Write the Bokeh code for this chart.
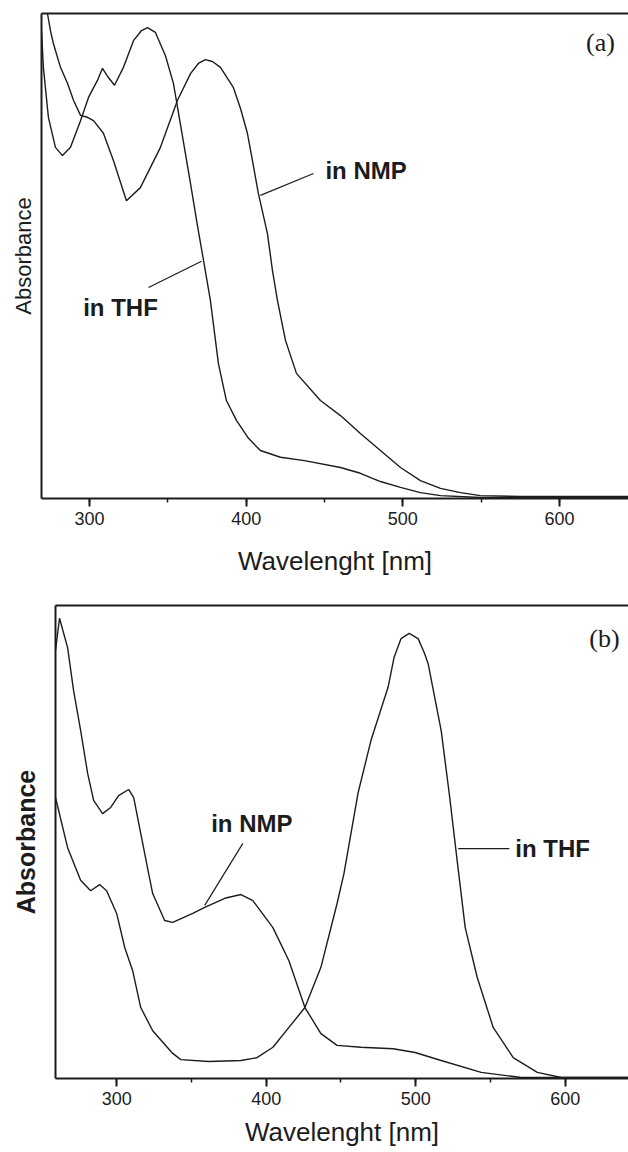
from bokeh.plotting import figure
from bokeh.models import Range1d, LinearAxis, FixedTicker, Label
from bokeh.embed import file_html
from bokeh.resources import INLINE

# ---------------- data ----------------
# Panel (a)
a_thf_nm = [269.4, 270.6, 273.8, 278.3, 282.8, 287.9, 294.3, 299.4, 305.1, 308.3, 312.1, 316.0,
            321.7, 328.1, 333.0, 337.0, 342.1, 348.5, 353.6, 358.1, 364.5, 368.9, 372.8, 377.2,
            382.3, 387.4, 393.8, 401.5, 409.1, 421.9, 437.2, 460.2, 472.9, 485.7, 498.5, 511.2,
            524.0, 549.5, 644.0]
a_thf_abs = [0.965, 0.889, 0.786, 0.724, 0.707, 0.724, 0.779, 0.827, 0.862, 0.887, 0.868, 0.852,
             0.889, 0.944, 0.964, 0.971, 0.961, 0.913, 0.856, 0.771, 0.649, 0.563, 0.491, 0.408,
             0.278, 0.202, 0.161, 0.124, 0.099, 0.085, 0.078, 0.064, 0.052, 0.035, 0.023, 0.012,
             0.006, 0.002, 0.002]
a_nmp_nm = [271.0, 273.2, 275.1, 277.0, 281.5, 286.0, 289.8, 294.3, 298.7, 302.6, 308.9, 315.3,
            323.6, 332.5, 345.3, 356.2, 364.5, 369.5, 374.0, 378.5, 383.6, 391.9, 396.4, 400.8,
            404.0, 407.8, 413.6, 416.8, 420.0, 425.1, 432.1, 447.4, 460.2, 472.9, 485.7, 498.5,
            511.2, 524.0, 536.8, 549.5, 575.0, 644.0]
a_nmp_abs = [1.06, 1.000, 0.965, 0.938, 0.889, 0.856, 0.821, 0.790, 0.786, 0.779, 0.753, 0.697,
             0.614, 0.641, 0.724, 0.821, 0.876, 0.897, 0.905, 0.901, 0.889, 0.847, 0.804, 0.753,
             0.697, 0.629, 0.546, 0.470, 0.408, 0.326, 0.258, 0.202, 0.171, 0.134, 0.099, 0.064,
             0.037, 0.021, 0.012, 0.006, 0.004, 0.004]

# Panel (b)
b_nmp_nm = [259.1, 261.8, 267.2, 271.2, 275.9, 280.6, 284.6, 290.6, 296.0, 301.3, 308.0, 311.4,
            316.1, 321.4, 324.1, 332.1, 337.5, 350.9, 358.9, 372.3, 383.1, 391.1, 404.5, 415.2,
            425.9, 436.6, 447.4, 463.4, 484.9, 499.6, 517.0, 543.8, 570.6, 642.3]
b_nmp_abs = [0.905, 0.973, 0.911, 0.820, 0.736, 0.645, 0.588, 0.560, 0.573, 0.598, 0.611, 0.594,
             0.518, 0.433, 0.391, 0.334, 0.330, 0.349, 0.362, 0.381, 0.389, 0.376, 0.319, 0.249,
             0.150, 0.095, 0.070, 0.066, 0.063, 0.055, 0.038, 0.013, 0.002, 0.002]
b_thf_nm = [259.1, 267.2, 275.9, 282.6, 288.6, 293.3, 300.0, 305.4, 310.7, 316.1, 324.1, 337.5,
            342.9, 361.6, 383.1, 393.8, 404.5, 415.2, 425.9, 436.6, 447.4, 452.0, 461.4, 470.1,
            481.5, 485.5, 490.2, 495.6, 501.6, 505.6, 508.3, 517.0, 522.4, 527.7, 533.1, 541.1,
            551.8, 565.2, 581.3, 597.3, 642.3]
b_thf_abs = [0.594, 0.488, 0.419, 0.397, 0.410, 0.397, 0.349, 0.277, 0.228, 0.150, 0.101, 0.053,
             0.040, 0.036, 0.038, 0.044, 0.066, 0.108, 0.150, 0.235, 0.370, 0.433, 0.603, 0.715,
             0.827, 0.890, 0.930, 0.941, 0.930, 0.901, 0.877, 0.736, 0.603, 0.461, 0.319, 0.214,
             0.108, 0.044, 0.013, 0.002, 0.002]

x_ticks = [300, 400, 500, 600]
x_minor = [300, 350, 400, 450, 500, 550, 600]
x_label = "Wavelenght [nm]"
y_label = "Absorbance"

INK = "#1c1c1c"
SANS = "Liberation Sans"
SERIF = "Liberation Serif"


def make_panel(xr, height, mb_left, mb_top, mb_bottom, ylab_style, ylab_size, ylab_standoff,
               xlab_standoff):
    p = figure(width=628, height=height, x_range=Range1d(*xr), y_range=Range1d(0, 1),
               output_backend="svg", toolbar_location=None)
    p.min_border_left = mb_left
    p.min_border_right = 0
    p.min_border_top = mb_top
    p.min_border_bottom = mb_bottom
    p.outline_line_color = None
    p.grid.visible = False
    p.background_fill_color = "white"
    p.border_fill_color = "white"

    xa = p.xaxis[0]
    xa.ticker = FixedTicker(ticks=x_ticks, minor_ticks=x_minor)
    xa.axis_line_color = INK
    xa.axis_line_width = 2
    xa.major_tick_line_color = INK
    xa.major_tick_line_width = 2
    xa.major_tick_out = 8
    xa.major_tick_in = 0
    xa.minor_tick_line_color = INK
    xa.minor_tick_line_width = 1.5
    xa.minor_tick_out = 4
    xa.minor_tick_in = 0
    xa.major_label_text_font = SANS
    xa.major_label_text_font_size = "18px"
    xa.major_label_text_color = INK
    xa.major_label_standoff = 5
    xa.axis_label = x_label
    xa.axis_label_text_font = SANS
    xa.axis_label_text_font_size = "26px"
    xa.axis_label_text_font_style = "normal"
    xa.axis_label_text_color = INK
    xa.axis_label_standoff = xlab_standoff

    ya = p.yaxis[0]
    ya.ticker = FixedTicker(ticks=[])
    ya.major_label_text_font_size = "0px"
    ya.major_label_standoff = 0
    ya.major_tick_line_color = None
    ya.minor_tick_line_color = None
    ya.major_tick_out = 0
    ya.major_tick_in = 0
    ya.minor_tick_out = 0
    ya.minor_tick_in = 0
    ya.axis_line_color = INK
    ya.axis_line_width = 2
    ya.axis_label = y_label
    ya.axis_label_text_font = SANS
    ya.axis_label_text_font_size = ylab_size
    ya.axis_label_text_font_style = ylab_style
    ya.axis_label_text_color = INK
    ya.axis_label_standoff = ylab_standoff

    top = LinearAxis(ticker=FixedTicker(ticks=[]), major_label_text_font_size="0px",
                     major_label_standoff=0, major_tick_line_color=None,
                     minor_tick_line_color=None, major_tick_out=0, major_tick_in=0,
                     minor_tick_out=0, minor_tick_in=0,
                     axis_line_color=INK, axis_line_width=2)
    p.add_layout(top, "above")
    return p


def add_label(p, x, y, text, align="center", size="24px", font=SANS, style="bold"):
    p.add_layout(Label(x=x, y=y, text=text, text_font=font, text_font_size=size,
                       text_font_style=style, text_align=align, text_baseline="middle",
                       text_color=INK))


# ---------------- panel (a) ----------------
pa = make_panel((269.4, 644.0), 585, 41, 13, 87, "normal", "22px", 6, 18)
pa.line(a_thf_nm, a_thf_abs, line_color=INK, line_width=1.4)
pa.line(a_nmp_nm, a_nmp_abs, line_color=INK, line_width=1.4)
pa.line([409.1, 443.0], [0.625, 0.670], line_color=INK, line_width=1.2)
pa.line([337.7, 371.5], [0.435, 0.489], line_color=INK, line_width=1.2)
add_label(pa, 450.6, 0.676, "in NMP", align="left")
add_label(pa, 319.8, 0.394, "in THF")
add_label(pa, 626.1, 0.940, "(a)", size="26px", font=SERIF, style="normal")

# ---------------- panel (b) ----------------
pb = make_panel((259.1, 642.3), 567, 55, 20, 74, "bold", "25px", 16, 9)
pb.line(b_nmp_nm, b_nmp_abs, line_color=INK, line_width=1.4)
pb.line(b_thf_nm, b_thf_abs, line_color=INK, line_width=1.4)
pb.line([358.9, 384.4], [0.366, 0.497], line_color=INK, line_width=1.2)
pb.line([528.4, 562.6], [0.486, 0.486], line_color=INK, line_width=1.2)
add_label(pb, 390.4, 0.539, "in NMP")
add_label(pb, 566.6, 0.486, "in THF", align="left")
add_label(pb, 626.2, 0.930, "(b)", size="26px", font=SERIF, style="normal")

open("out.html", "w").write(file_html([pa, pb], INLINE))
